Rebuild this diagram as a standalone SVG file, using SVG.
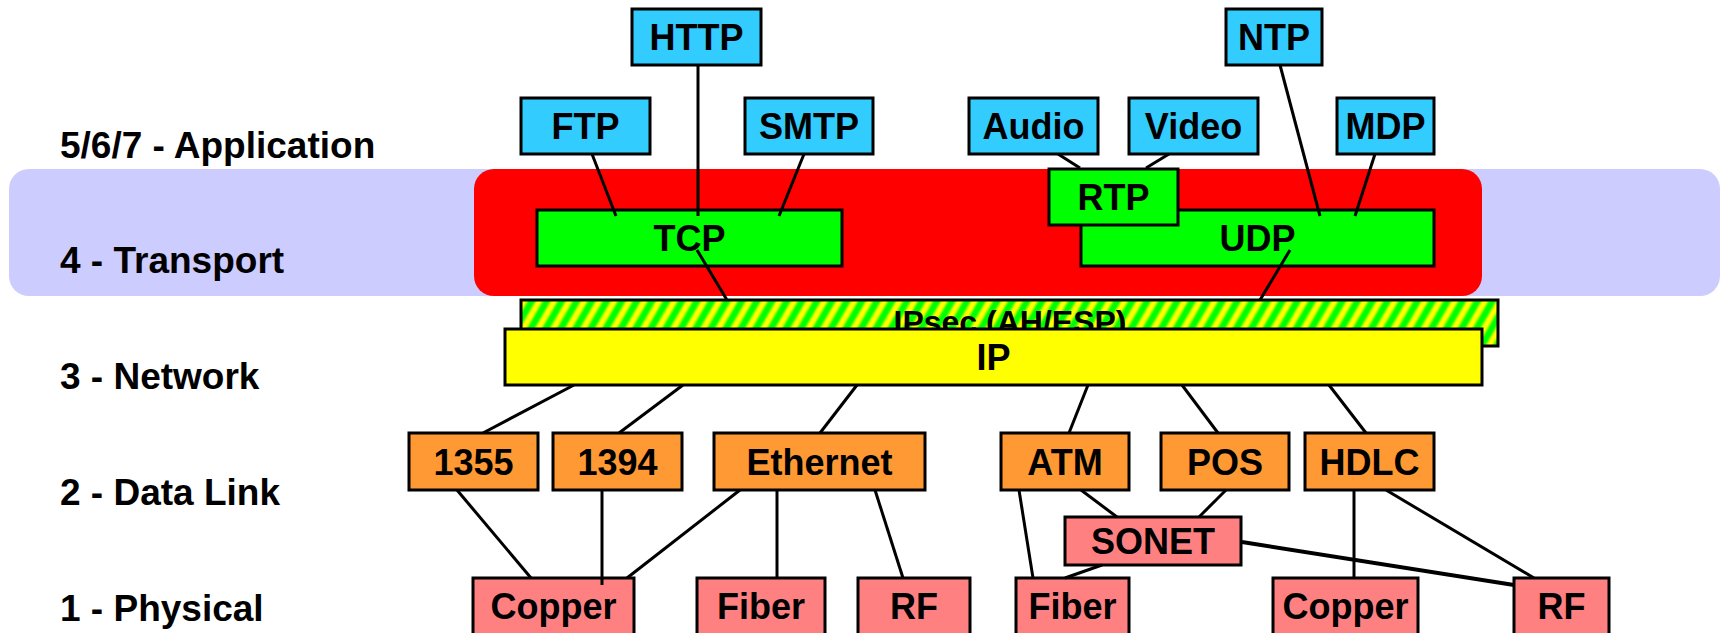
<svg xmlns="http://www.w3.org/2000/svg" width="1722" height="633" viewBox="0 0 1722 633">
  <style>
    text { font-family: "Liberation Sans", Arial, sans-serif; font-weight: bold; fill: #000; }
    .lbl { font-size: 36px; }
    .layer { font-size: 37px; }
    .box { stroke: #000; stroke-width: 3; }
    .app { fill: #33CCFF; }
    .trn { fill: #00FF00; }
    .net { fill: #FFFF00; }
    .dl { fill: #FF9933; }
    .phy { fill: #FF8080; }
    .link { stroke: #000; stroke-width: 3; fill: none; }
  </style>
  <defs>
    <linearGradient id="stripeGrad" x1="0" y1="0" x2="1" y2="0">
      <stop offset="0" stop-color="#00FF00"/>
      <stop offset="0.15" stop-color="#00FF00"/>
      <stop offset="0.38" stop-color="#FFFF00"/>
      <stop offset="0.62" stop-color="#FFFF00"/>
      <stop offset="0.85" stop-color="#00FF00"/>
      <stop offset="1" stop-color="#00FF00"/>
    </linearGradient>
    <pattern id="hatch" patternUnits="userSpaceOnUse" width="13" height="40" patternTransform="rotate(30)">
      <rect x="0" y="0" width="13" height="40" fill="url(#stripeGrad)"/>
    </pattern>
  </defs>

  <!-- transport layer band and security zone -->
  <rect id="transport-band" x="9" y="169" width="1711" height="127" rx="20" ry="20" fill="#CCCCFF"/>
  <rect id="secure-zone" x="474" y="169" width="1008" height="127" rx="20" ry="20" fill="#FF0000"/>

  <!-- layer labels -->
  <g id="layer-labels">
    <text class="layer" x="60" y="158">5/6/7 - Application</text>
    <text class="layer" x="60" y="273">4 - Transport</text>
    <text class="layer" x="60" y="389">3 - Network</text>
    <text class="layer" x="60" y="505">2 - Data Link</text>
    <text class="layer" x="60" y="621">1 - Physical</text>
  </g>

  <!-- application protocols -->
  <g id="http"><rect class="box app" x="632" y="9" width="129" height="56"/><text class="lbl" x="696.5" y="50" text-anchor="middle">HTTP</text></g>
  <g id="ntp"><rect class="box app" x="1226" y="9" width="96" height="56"/><text class="lbl" x="1274" y="50" text-anchor="middle">NTP</text></g>
  <g id="ftp"><rect class="box app" x="521" y="98" width="129" height="56"/><text class="lbl" x="585.5" y="139" text-anchor="middle">FTP</text></g>
  <g id="smtp"><rect class="box app" x="745" y="98" width="128" height="56"/><text class="lbl" x="809" y="139" text-anchor="middle">SMTP</text></g>
  <g id="audio"><rect class="box app" x="969" y="98" width="129" height="56"/><text class="lbl" x="1033.5" y="139" text-anchor="middle">Audio</text></g>
  <g id="video"><rect class="box app" x="1129" y="98" width="129" height="56"/><text class="lbl" x="1193.5" y="139" text-anchor="middle">Video</text></g>
  <g id="mdp"><rect class="box app" x="1337" y="98" width="97" height="56"/><text class="lbl" x="1385.5" y="139" text-anchor="middle">MDP</text></g>

  <!-- transport protocols -->
  <g id="tcp"><rect class="box trn" x="537" y="210" width="305" height="56"/><text class="lbl" x="689.5" y="251" text-anchor="middle">TCP</text></g>
  <g id="udp"><rect class="box trn" x="1081" y="210" width="353" height="56"/><text class="lbl" x="1257.5" y="251" text-anchor="middle">UDP</text></g>
  <g id="rtp"><rect class="box trn" x="1049" y="169" width="129" height="56"/><text class="lbl" x="1113.5" y="210" text-anchor="middle">RTP</text></g>

  <!-- network layer -->
  <g id="ipsec"><rect class="box" x="521" y="300" width="977" height="46" fill="url(#hatch)"/><text x="1010" y="333" font-size="32" text-anchor="middle">IPsec (AH/ESP)</text></g>
  <g id="ip"><rect class="box net" x="505" y="329" width="977" height="56"/><text class="lbl" x="993.5" y="370" text-anchor="middle">IP</text></g>

  <!-- data link protocols -->
  <g id="dl-1355"><rect class="box dl" x="409" y="433" width="129" height="57"/><text class="lbl" x="473.5" y="475" text-anchor="middle">1355</text></g>
  <g id="dl-1394"><rect class="box dl" x="553" y="433" width="129" height="57"/><text class="lbl" x="617.5" y="475" text-anchor="middle">1394</text></g>
  <g id="ethernet"><rect class="box dl" x="714" y="433" width="211" height="57"/><text class="lbl" x="819.5" y="475" text-anchor="middle">Ethernet</text></g>
  <g id="atm"><rect class="box dl" x="1001" y="433" width="128" height="57"/><text class="lbl" x="1065" y="475" text-anchor="middle">ATM</text></g>
  <g id="pos"><rect class="box dl" x="1161" y="433" width="128" height="57"/><text class="lbl" x="1225" y="475" text-anchor="middle">POS</text></g>
  <g id="hdlc"><rect class="box dl" x="1305" y="433" width="129" height="57"/><text class="lbl" x="1369.5" y="475" text-anchor="middle">HDLC</text></g>

  <!-- physical media -->
  <g id="sonet"><rect class="box phy" x="1065" y="517" width="176" height="48"/><text class="lbl" x="1153" y="554" text-anchor="middle">SONET</text></g>
  <g id="copper-1"><rect class="box phy" x="473" y="578" width="161" height="57"/><text class="lbl" x="553.5" y="619" text-anchor="middle">Copper</text></g>
  <g id="fiber-1"><rect class="box phy" x="697" y="578" width="128" height="57"/><text class="lbl" x="761" y="619" text-anchor="middle">Fiber</text></g>
  <g id="rf-1"><rect class="box phy" x="858" y="578" width="112" height="57"/><text class="lbl" x="914" y="619" text-anchor="middle">RF</text></g>
  <g id="fiber-2"><rect class="box phy" x="1016" y="578" width="113" height="57"/><text class="lbl" x="1072.5" y="619" text-anchor="middle">Fiber</text></g>
  <g id="copper-2"><rect class="box phy" x="1273" y="578" width="145" height="57"/><text class="lbl" x="1345.5" y="619" text-anchor="middle">Copper</text></g>
  <g id="rf-2"><rect class="box phy" x="1514" y="578" width="95" height="57"/><text class="lbl" x="1561.5" y="619" text-anchor="middle">RF</text></g>

  <!-- connectors -->
  <g id="connectors" class="link">
    <line x1="592" y1="154" x2="616" y2="216"/>
    <line x1="698" y1="65" x2="698" y2="216"/>
    <line x1="804" y1="154" x2="779" y2="216"/>
    <line x1="1058" y1="154" x2="1080" y2="168"/>
    <line x1="1169" y1="154" x2="1146" y2="168"/>
    <line x1="1280" y1="65" x2="1320" y2="216"/>
    <line x1="1375" y1="154" x2="1355" y2="216"/>
    <line x1="697" y1="250" x2="727" y2="300"/>
    <line x1="1290" y1="250" x2="1260" y2="300"/>
    <line x1="574" y1="385" x2="483" y2="433"/>
    <line x1="683" y1="385" x2="619" y2="433"/>
    <line x1="857" y1="385" x2="820" y2="433"/>
    <line x1="1088" y1="385" x2="1069" y2="433"/>
    <line x1="1182" y1="385" x2="1218" y2="433"/>
    <line x1="1329" y1="385" x2="1366" y2="433"/>
    <line x1="457" y1="490" x2="531" y2="578"/>
    <line x1="602" y1="490" x2="602" y2="585"/>
    <line x1="740" y1="490" x2="627" y2="578"/>
    <line x1="777" y1="490" x2="777" y2="578"/>
    <line x1="875" y1="490" x2="903" y2="578"/>
    <line x1="1019" y1="490" x2="1033" y2="578"/>
    <line x1="1081" y1="490" x2="1117" y2="517"/>
    <line x1="1226" y1="490" x2="1199" y2="517"/>
    <line x1="1102" y1="565" x2="1065" y2="578"/>
    <line x1="1242" y1="542" x2="1514" y2="585" stroke-width="4"/>
    <line x1="1354" y1="490" x2="1354" y2="578"/>
    <line x1="1386" y1="490" x2="1534" y2="578"/>
  </g>
</svg>
